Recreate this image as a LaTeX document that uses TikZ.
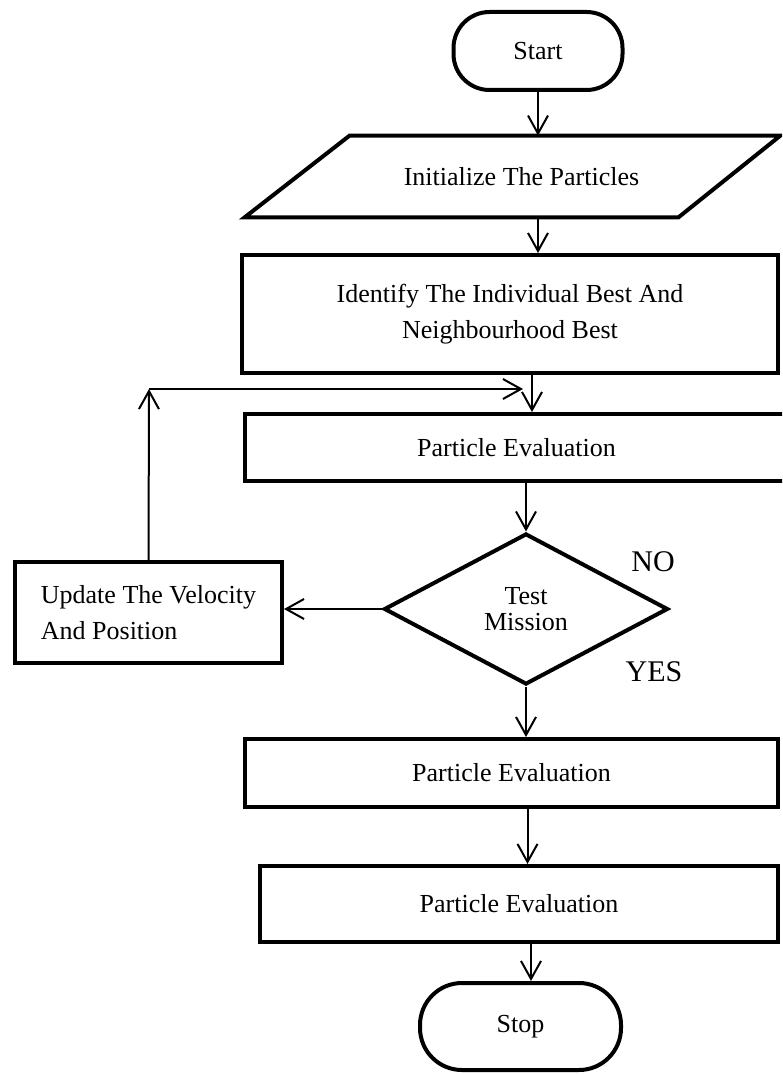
\documentclass[tikz,border=0pt]{standalone}
\usepackage{fontspec}
\setmainfont{Liberation Serif}
\usetikzlibrary{shapes.geometric,arrows.meta,positioning,calc}

\begin{document}
\begin{tikzpicture}[x=0.5pt, y=-0.5pt,
    every node/.style={font=\fontsize{13}{18}\selectfont},
    terminal/.style={draw, line width=2pt, rounded corners=18pt, inner sep=0pt},
    process/.style={draw, line width=2pt, inner sep=0pt, align=center},
    decision/.style={draw, diamond, aspect=1.9, line width=2pt, inner sep=0pt, align=center},
    arr/.style={-{Straight Barb[length=9pt,width=10pt]}, line width=1pt}]
        % Page frame
        \path[use as bounding box] (0,0) rectangle (782,1074);
        \clip (0,0) rectangle (782,1074);

        % Start
        \node[terminal, minimum width=84.5pt, minimum height=39pt] (start) at (538,51) {Start};

        % Initialize (parallelogram)
        \node[minimum width=267.5pt, minimum height=40.5pt, inner sep=0pt] (init) at (512.5,176.5) {\hspace{9pt}Initialize The Particles};
        \draw[line width=2pt] ($(init.north west)+(105,0)$) -- (init.north east) -- ($(init.south east)-(102,0)$) -- (init.south west) -- cycle;

        % Identify best
        \node[process, minimum width=268pt, minimum height=59pt] (ident) at (510,314) {Identify The Individual Best And\\Neighbourhood Best};

        % Evaluation
        \node[process, minimum width=271.5pt, minimum height=33.5pt] (eval1) at (516.5,447.5) {Particle Evaluation};

        % Test
        \node[decision, minimum width=142pt, minimum height=75.5pt, font=\fontsize{13}{13}\selectfont] (test) at (526,609) {Test\\Mission};
        \node[font=\fontsize{15}{18}\selectfont] (no) at (653,562) {NO};
        \node[font=\fontsize{15}{18}\selectfont] (yes) at (654,672) {YES};

        % Update
        \node[process, align=left, minimum width=133.5pt, minimum height=50.5pt] (update) at (148.5,612.5) {Update The Velocity\\And Position};

        % Lower boxes
        \node[process, minimum width=266.5pt, minimum height=34pt] (eval2) at (511.5,773) {Particle Evaluation};
        \node[process, minimum width=259pt, minimum height=38pt] (eval3) at (519,904) {Particle Evaluation};

        % Stop
        \node[terminal, minimum width=100.5pt, minimum height=43.5pt, rounded corners=21pt] (stop) at (520.5,1026.5) {Stop};

        % Connectors
        \draw[arr] (start.south) -- (start.south |- init.north);
        \draw[arr] (start.south |- init.south) -- (start.south |- ident.north);
        \draw[arr] ([xshift=11pt]ident.south) -- ([xshift=11pt]ident.south |- eval1.north);
        \draw[arr] (test.north |- eval1.south) -- (test.north);
        \draw[arr] (test.west) -- (test.west -| update.east);
        \draw[arr] (test.south) -- (test.south |- eval2.north);
        \draw[arr] ([xshift=8pt]eval2.south) -- ([xshift=8pt]eval2.south |- eval3.north);
        \draw[arr] ([xshift=6pt]eval3.south) -- ([xshift=6pt]eval3.south |- stop.north);

        % Loop back
        \coordinate (loop) at (149,389);
        \coordinate (join) at (523,389);
        \draw[arr] (update.north) -- (loop);
        \draw[arr] (loop) -- (join);
      \end{tikzpicture}
\end{document}
